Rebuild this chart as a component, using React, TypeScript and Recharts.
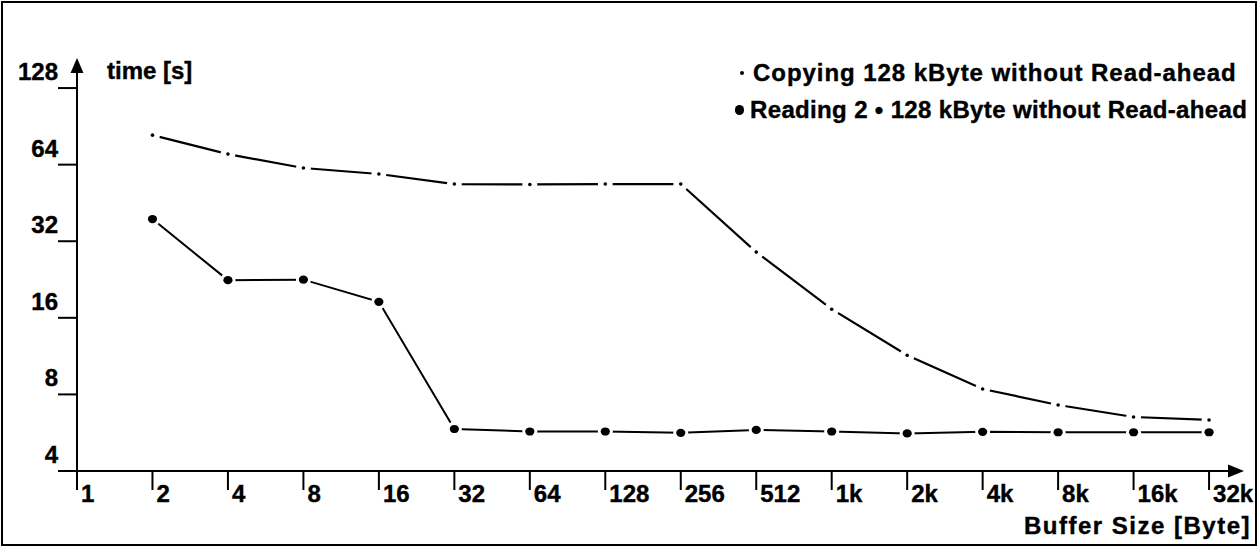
import React from 'react';
import { LineChart, Line, XAxis, YAxis, Legend } from 'recharts';

// Buffer sizes in bytes (x axis, log2 spaced) and their tick labels
const bufferSizes = [1, 2, 4, 8, 16, 32, 64, 128, 256, 512, 1024, 2048, 4096, 8192, 16384, 32768];
const bufferLabels = ['1', '2', '4', '8', '16', '32', '64', '128', '256', '512', '1k', '2k', '4k', '8k', '16k', '32k'];

// measured sizes (2 .. 32k)
const seriesSizes = [2, 4, 8, 16, 32, 64, 128, 256, 512, 1024, 2048, 4096, 8192, 16384, 32768];
const copyingTimes = [83.6, 70.4, 62.1, 58.8, 53.7, 53.5, 53.7, 53.7, 29.0, 17.3, 11.4, 8.4, 7.27, 6.52, 6.35];
const readingTimes = [39.1, 22.5, 22.6, 18.5, 5.85, 5.72, 5.72, 5.65, 5.8, 5.72, 5.62, 5.7, 5.68, 5.68, 5.68];

const yTicks = [4, 8, 16, 32, 64, 128];

const copyingName = 'Copying 128 kByte without Read-ahead';
const readingName = 'Reading 2 \u2022 128 kByte without Read-ahead';

const copyData = seriesSizes.map((s, i) => ({ size: s, t: copyingTimes[i] }));
const readData = seriesSizes.map((s, i) => ({ size: s, t: readingTimes[i] }));

const FONT = '"Liberation Sans", Arial, Helvetica, sans-serif';

const YTick = (props: any) => {
  const { x, y, payload } = props;
  return (
    <g>
      <line x1={x - 19} y1={y} x2={x} y2={y} stroke="#000" strokeWidth={2} />
      <text x={x - 19} y={y - 8} textAnchor="end" fontFamily={FONT} fontWeight="bold" fontSize={24} fill="#000" stroke="#000" strokeWidth={0.4}>
        {payload.value}
      </text>
    </g>
  );
};

const XTick = (props: any) => {
  const { x, y, payload } = props;
  const idx = bufferSizes.indexOf(payload.value);
  return (
    <g>
      <line x1={x} y1={y} x2={x} y2={y + 19} stroke="#000" strokeWidth={2} />
      <text x={x + 4} y={y + 31} textAnchor="start" fontFamily={FONT} fontWeight="bold" fontSize={24} fill="#000" stroke="#000" strokeWidth={0.4}>
        {bufferLabels[idx]}
      </text>
    </g>
  );
};

const XDecor = (props: any) => {
  const vb = props.viewBox || {};
  const x0 = vb.x;
  const y0 = vb.y;
  const x1 = vb.x + vb.width;
  return (
    <g>
      <line x1={x0 - 19} y1={y0} x2={x1} y2={y0} stroke="#000" strokeWidth={2} />
      <polygon points={`${x1 + 4},${y0} ${x1 - 12},${y0 - 6.5} ${x1 - 12},${y0 + 6.5}`} fill="#000" />
      <text x={x1 + 11} y={y0 + 63} textAnchor="end" fontFamily={FONT} fontWeight="bold" fontSize={24} letterSpacing={1.5} fill="#000" stroke="#000" strokeWidth={0.4}>
        Buffer Size [Byte]
      </text>
    </g>
  );
};

const YDecor = (props: any) => {
  const vb = props.viewBox || {};
  const ax = vb.x + vb.width;
  const top = vb.y;
  return (
    <g>
      <polygon points={`${ax},${top - 2} ${ax - 6.5},${top + 13} ${ax + 6.5},${top + 13}`} fill="#000" />
      <text x={ax + 30} y={top + 19} textAnchor="start" fontFamily={FONT} fontWeight="bold" fontSize={24} fill="#000" stroke="#000" strokeWidth={0.4}>
        time [s]
      </text>
    </g>
  );
};

const CopyDot = (props: any) => {
  const { cx, cy, index } = props;
  if (cx == null || cy == null) return null;
  return (
    <g key={`c-${index}`}>
      <circle cx={cx} cy={cy} r={7.5} fill="#fff" />
      <circle cx={cx} cy={cy} r={1.8} fill="#000" />
    </g>
  );
};

const ReadDot = (props: any) => {
  const { cx, cy, index } = props;
  if (cx == null || cy == null) return null;
  return (
    <g key={`r-${index}`}>
      <circle cx={cx} cy={cy} r={7.5} fill="#fff" />
      <ellipse cx={cx} cy={cy} rx={4.6} ry={4.1} fill="#000" />
    </g>
  );
};

const LegendContent = () => (
  <div style={{ fontFamily: FONT, fontWeight: 'bold', fontSize: 24, color: '#000', lineHeight: '37px', whiteSpace: 'nowrap', WebkitTextStroke: '0.4px #000' }}>
    <div style={{ display: 'flex', alignItems: 'center' }}>
      <span style={{ display: 'inline-block', flexShrink: 0, width: 4, height: 4, borderRadius: 2, background: '#000', margin: '0 9px 0 8px' }} />
      <span style={{ letterSpacing: 0.95 }}>{copyingName}</span>
    </div>
    <div style={{ display: 'flex', alignItems: 'center' }}>
      <span style={{ display: 'inline-block', flexShrink: 0, width: 9, height: 10, borderRadius: 5, background: '#000', margin: '0 6px 0 3px' }} />
      <span style={{ letterSpacing: 0.35 }}>{readingName}</span>
    </div>
  </div>
);

export default function App() {
  return (
    <div style={{ position: 'absolute', left: 0, top: 0, width: 1259, height: 548, background: '#fff' }}>
      <LineChart width={1259} height={548} margin={{ top: 60, right: 19, bottom: 0, left: 0 }}>
        <XAxis
          dataKey="size"
          type="number"
          scale="log"
          domain={[1, 43540]}
          allowDataOverflow
          ticks={bufferSizes}
          interval={0}
          height={77}
          tickSize={0}
          tickMargin={0}
          axisLine={false}
          tick={<XTick />}
          label={(p: any) => <XDecor {...p} />}
        />
        <YAxis
          type="number"
          scale="log"
          domain={[4, 165]}
          allowDataOverflow
          ticks={yTicks}
          interval={0}
          width={77}
          tickSize={0}
          tickMargin={0}
          axisLine={{ stroke: '#000', strokeWidth: 2 }}
          tick={<YTick />}
          label={(p: any) => <YDecor {...p} />}
        />
        <Legend
          layout="horizontal"
          verticalAlign="middle"
          align="center"
          content={<LegendContent />}
          wrapperStyle={{ position: 'absolute', left: 732, top: 54, width: 525 }}
        />
        <Line
          data={copyData}
          dataKey="t"
          name={copyingName}
          type="linear"
          stroke="#000"
          strokeWidth={2.2}
          dot={<CopyDot />}
          activeDot={false}
          isAnimationActive={false}
        />
        <Line
          data={readData}
          dataKey="t"
          name={readingName}
          type="linear"
          stroke="#000"
          strokeWidth={2}
          dot={<ReadDot />}
          activeDot={false}
          isAnimationActive={false}
        />
      </LineChart>
      <div style={{ position: 'absolute', left: 1, top: 1, width: 1256, height: 545, border: '2px solid #000', boxSizing: 'border-box', pointerEvents: 'none' }} />
    </div>
  );
}
